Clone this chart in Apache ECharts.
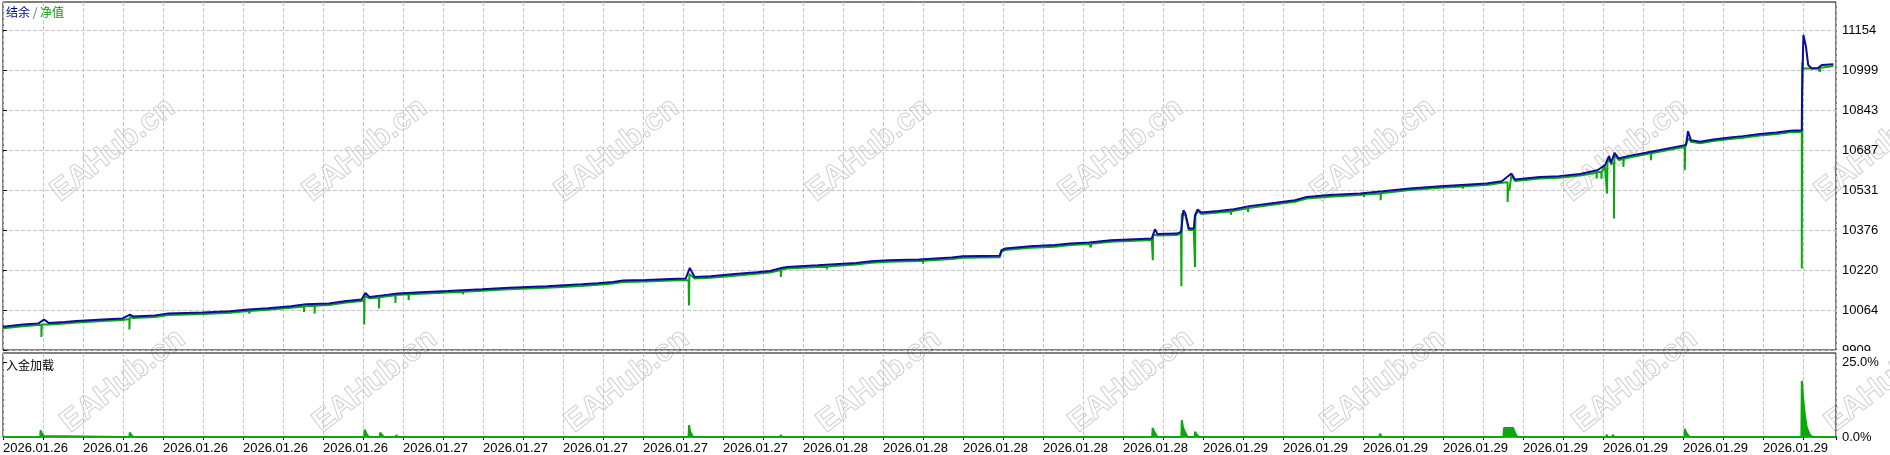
<!DOCTYPE html>
<html>
<head>
<meta charset="utf-8">
<script src="https://cdn.jsdelivr.net/npm/echarts@6/dist/echarts.min.js"></script>
<style>
html,body{margin:0;padding:0;background:#fff;}
#chart{width:1890px;height:455px;}
</style>
</head>
<body>
<div id="chart"></div>
<script>
// x = deal/time index (10 units per grid column), y = account value
const xTickLabels = ['2026.01.26','2026.01.26','2026.01.26','2026.01.26','2026.01.26',
  '2026.01.27','2026.01.27','2026.01.27','2026.01.27','2026.01.27',
  '2026.01.28','2026.01.28','2026.01.28','2026.01.28','2026.01.28',
  '2026.01.29','2026.01.29','2026.01.29','2026.01.29','2026.01.29','2026.01.29','2026.01.29','2026.01.29'];
const yTickValues = [9909, 10064, 10220, 10376, 10531, 10687, 10843, 10999, 11154];
const loadTickValues = [0, 25];

const balanceData = [
[0,10000],[5,10008],[8.8,10012],[10.25,10028],[11.5,10014],[15.5,10018],[18.4,10022],[25,10028],[29.9,10032],[31.75,10047],[32.5,10040],[38,10044],[41.35,10051],[50,10055],[56.65,10060],[61.45,10067],[66.25,10072],[72,10080],[75.75,10087],[81.5,10090],[85.35,10099],[89.65,10106],[90.6,10131],[91.6,10116],[94.9,10122],[98.75,10129],[104.5,10134],[111.2,10139],[119.8,10146],[126.5,10152],[136,10158],[144.7,10165],[148.7,10169],[152.5,10174],[155,10180],[160.7,10182],[166.9,10186],[170.7,10188],[171.7,10229],[172.9,10194],[176.9,10197],[182.2,10204],[188.4,10212],[191.75,10217],[194.6,10229],[196,10233],[203.7,10239],[213.25,10248],[217.1,10255],[221.4,10259],[229,10262],[237.2,10270],[240,10275],[249.2,10277],[249.6,10298],[250.6,10305],[256.8,10314],[263,10318],[266.9,10324],[271.6,10328],[277,10337],[282.9,10341],[287.2,10344],[288,10380],[288.6,10361],[293.4,10363],[294.5,10369],[295.1,10454],[295.6,10441],[296.45,10383],[297.7,10383],[298,10435],[298.65,10457],[299.6,10445],[303.9,10451],[307.75,10458],[311.6,10470],[318.25,10483],[323,10493],[325.9,10506],[331.65,10513],[339.3,10519],[345,10528],[351.75,10539],[359.4,10548],[370.9,10558],[374.7,10567],[377.1,10597],[378,10574],[384.25,10584],[389,10587],[394.3,10595],[398.6,10610],[400.5,10630],[401.5,10665],[402,10639],[402.9,10678],[403.9,10656],[406.25,10665],[412,10682],[419.25,10704],[420.75,10708],[421.25,10762],[422,10727],[424.25,10721],[427.6,10730],[431.75,10738],[435,10743],[439.25,10751],[443.4,10757],[446.75,10764],[449.7,10766],[449.75,10896],[449.9,11000],[450.1,11137],[450.5,11133],[450.75,11091],[451.3,11020],[452.2,11007],[453.8,11009],[454.7,11020],[457.6,11023]
];

const equityData = [
[0,9994],[5,10002],[8.8,10006],[9.6,10007],[9.6,9960],[9.7,10008],[11.5,10008],[15.5,10012],[18.4,10016],[25,10022],[29.9,10026],[31.6,10030],[31.6,9989],[31.7,10038],[32.5,10034],[38,10038],[41.35,10045],[50,10049],[56.65,10054],[61.45,10061],[61.6,10061],[61.6,10051],[61.7,10061],[66.25,10066],[72,10074],[75.25,10079],[75.25,10057],[75.35,10080],[77.9,10082],[77.9,10051],[78,10082],[81.5,10084],[85.35,10093],[89.65,10100],[90.3,10102],[90.3,10008],[90.4,10120],[91.6,10110],[94,10114],[94,10071],[94.1,10115],[98.1,10122],[98.1,10092],[98.2,10123],[101.4,10126],[101.4,10103],[101.5,10126],[104.5,10128],[111.2,10133],[115,10135],[115,10126],[115.1,10136],[119.8,10140],[126.5,10146],[136,10152],[144.7,10159],[148.7,10163],[152.5,10168],[155,10174],[160.7,10176],[166.9,10180],[171.4,10182],[171.5,10083],[171.6,10205],[172.9,10188],[176.9,10191],[182.2,10198],[188.4,10206],[191.75,10211],[194.45,10221],[194.45,10194],[194.6,10223],[196,10227],[203.7,10233],[206,10234],[206,10224],[206.1,10235],[213.25,10242],[217.1,10249],[221.4,10253],[229,10256],[230,10256],[230,10246],[230.1,10257],[237.2,10264],[240,10269],[249.2,10271],[249.45,10271],[249.45,10266],[249.6,10292],[250.6,10299],[256.8,10308],[263,10312],[266.9,10318],[271.6,10322],[271.95,10322],[271.95,10309],[272.1,10323],[277,10331],[282.9,10335],[287.2,10338],[287.45,10338],[287.45,10259],[287.5,10360],[288.6,10355],[293.4,10357],[294.5,10363],[294.6,10363],[294.6,10158],[294.7,10440],[295.6,10435],[296.45,10377],[297.7,10377],[298,10377],[298,10233],[298.1,10430],[298.65,10451],[299.6,10439],[303.9,10445],[307,10449],[307,10436],[307.1,10450],[307.75,10452],[311.25,10462],[311.25,10447],[311.35,10463],[318.25,10477],[323,10487],[325.9,10500],[331.65,10507],[339.3,10513],[340.25,10515],[340.25,10506],[340.35,10515],[344.4,10519],[344.4,10493],[344.5,10520],[345,10522],[351.75,10533],[359.4,10542],[365,10547],[365,10538],[365.1,10548],[370.9,10552],[374.7,10561],[376.15,10563],[376.15,10486],[376.3,10540],[376.6,10532],[377.1,10590],[378,10568],[384.25,10578],[389,10581],[394.3,10589],[398.4,10600],[398.4,10578],[398.5,10602],[399.6,10604],[399.6,10578],[399.7,10606],[400.5,10624],[401,10627],[401,10519],[401.1,10640],[401.5,10659],[402,10633],[402.75,10640],[402.75,10422],[402.85,10670],[403.9,10650],[405.1,10654],[405.1,10623],[405.2,10655],[406.25,10659],[412,10676],[412,10649],[412.1,10676],[419.25,10698],[420.45,10700],[420.45,10610],[420.55,10701],[421.25,10735],[422,10721],[424.25,10715],[427.6,10724],[431.75,10732],[435,10737],[439.25,10745],[443.4,10751],[446.75,10758],[449.7,10760],[449.7,10227],[449.8,11029],[449.9,11007],[453.8,11007],[454.2,10994],[454.4,11010],[454.7,11016],[457.6,11016]
];

const loadData = [
[0,0],[7.5,0],[7.7,0.4],[7.9,0],[9.3,0],[9.4,2.2],[9.7,1.2],[10.2,0.3],[10.6,0],
[29.6,0],[29.75,0.4],[29.9,0],[31.6,0],[31.7,1.5],[32,0.8],[32.5,0],
[61.1,0],[61.25,0.3],[61.4,0],[75.4,0],[75.5,0.4],[75.6,0],[78.1,0],[78.2,0.5],[78.4,0],
[90.3,0],[90.45,2.5],[90.8,1.2],[91.4,0],[94.2,0],[94.3,1.5],[94.7,0.8],[95.2,0],[98.2,0],[98.35,0.7],[98.6,0],[101.4,0],[101.5,0.6],[101.7,0],
[171.4,0],[171.5,3.9],[171.8,1.8],[172.5,0],
[194.3,0],[194.45,0.7],[194.7,0],
[287.3,0],[287.4,3.0],[287.8,1.8],[288.6,0],
[294.6,0],[294.7,5.6],[295.0,3.2],[295.8,0.8],[296.2,0],
[297.9,0],[298,1.7],[298.4,0.9],[299,0],
[307,0],[307.1,0.4],[307.3,0],[311.2,0],[311.3,0.4],[311.5,0],
[344.1,0],[344.25,1.1],[344.6,0],
[375.1,0],[375.25,3.0],[377.5,3.0],[378.2,0.8],[378.6,0],
[400.8,0],[400.9,0.8],[401.1,0],[402.4,0],[402.5,0.8],[402.7,0],
[412.1,0],[412.25,0.6],[412.5,0],
[420.4,0],[420.45,2.7],[420.8,1.5],[421.6,0],
[449.6,0],[449.7,18.7],[449.9,15],[450.4,8],[450.9,3.4],[451.7,0.7],[452.5,0],
[454.1,0],[454.25,0.4],[454.4,0],[458.25,0]
];

const BLUE = '#0a0aa6', GREEN = '#0aa80a';
const gridLine = {show:true, lineStyle:{color:'#c4c4c4', type:[4,2], width:1}};
const numFont = 'Liberation Sans';

const wm = [];
const wmRow1 = [113, 365, 617, 869, 1121, 1373, 1625, 1877];
const wmRow2 = [123, 375, 627, 879, 1131, 1383, 1635, 1887];
wmRow1.forEach(x => wm.push({x:x, y:150}));
wmRow2.forEach(x => wm.push({x:x, y:381}));
const graphics = wm.map(p => ({
  type:'text', x:p.x, y:p.y, rotation: 38*Math.PI/180, z:-10, silent:true,
  style:{text:'EAHub.cn', font:'bold 31px "Liberation Sans"', fill:'rgba(255,255,255,0)', stroke:'#cfcfcf', lineWidth:1, align:'center', verticalAlign:'middle'}
}));
graphics.push({type:'rect', shape:{x:1837, y:351, width:53, height:5}, style:{fill:'#fff'}, z:100, silent:true});
graphics.push({type:'text', x:6, y:359, z:50, silent:true,
  style:{text:'入金加载', font:'12px "Noto Sans CJK SC"', fill:'#000', align:'left', verticalAlign:'top'}});

const chart = echarts.init(document.getElementById('chart'), null, {renderer:'canvas'});
chart.setOption({
  animation:false,
  backgroundColor:'#fff',
  title:[
    {left:6, top:6, padding:0, text:'{a|结余} / {b|净值}',
     textStyle:{fontSize:12, fontWeight:'normal', color:'#666', fontFamily:'Noto Sans CJK SC',
       rich:{a:{color:'#0000a0', fontSize:12, fontFamily:'Noto Sans CJK SC'}, b:{color:'#00a000', fontSize:12, fontFamily:'Noto Sans CJK SC'}}}}
  ],
  graphic: graphics,
  grid:[
    {left:3, top:2, width:1833, height:348, show:true, borderColor:'#000', borderWidth:1, backgroundColor:'transparent'},
    {left:3, top:353, width:1833, height:84, show:true, borderColor:'#000', borderWidth:1, backgroundColor:'transparent'}
  ],
  xAxis:[
    {type:'value', gridIndex:0, min:0, max:458.25, interval:10,
     axisLine:{show:false}, axisTick:{show:false}, axisLabel:{show:false}, splitLine:gridLine},
    {type:'value', gridIndex:1, min:0, max:458.25, interval:10,
     axisLine:{show:false}, axisTick:{show:true, length:3, lineStyle:{color:'#000'}},
     axisLabel:{show:true, align:'left', margin:5, color:'#000', fontSize:13, fontFamily:numFont,
       formatter:function(v){ const k = Math.round(v); if (Math.abs(v-k)>1e-6 || k%20!==0) return ''; return xTickLabels[k/20] || ''; }},
     splitLine:gridLine}
  ],
  yAxis:[
    {type:'value', gridIndex:0, position:'right', min:9909, max:11266,
     axisLine:{show:false},
     axisTick:{show:true, length:4, customValues:yTickValues, lineStyle:{color:'#000'}},
     axisLabel:{show:true, customValues:yTickValues, margin:6, color:'#000', fontSize:13, fontFamily:numFont,
       formatter:function(v){ return String(Math.round(v)); }},
     splitLine:gridLine},
    {type:'value', gridIndex:1, position:'right', min:0, max:28,
     axisLine:{show:false},
     axisTick:{show:true, length:4, customValues:loadTickValues, lineStyle:{color:'#000'}},
     axisLabel:{show:true, customValues:loadTickValues, margin:6, color:'#000', fontSize:13, fontFamily:numFont,
       formatter:function(v){ return v.toFixed(1)+'%'; }},
     splitLine:{show:false}}
  ],
  series:[
    {name:'净值', type:'line', xAxisIndex:0, yAxisIndex:0, data:equityData, symbol:'none', z:2,
     lineStyle:{color:GREEN, width:2}},
    {name:'结余', type:'line', xAxisIndex:0, yAxisIndex:0, data:balanceData, symbol:'none', z:3,
     lineStyle:{color:BLUE, width:2}},
    {name:'入金加载', type:'line', xAxisIndex:1, yAxisIndex:1, data:loadData, symbol:'none', z:2,
     lineStyle:{color:GREEN, width:2}, areaStyle:{color:GREEN, opacity:1}}
  ]
});
</script>
</body>
</html>
